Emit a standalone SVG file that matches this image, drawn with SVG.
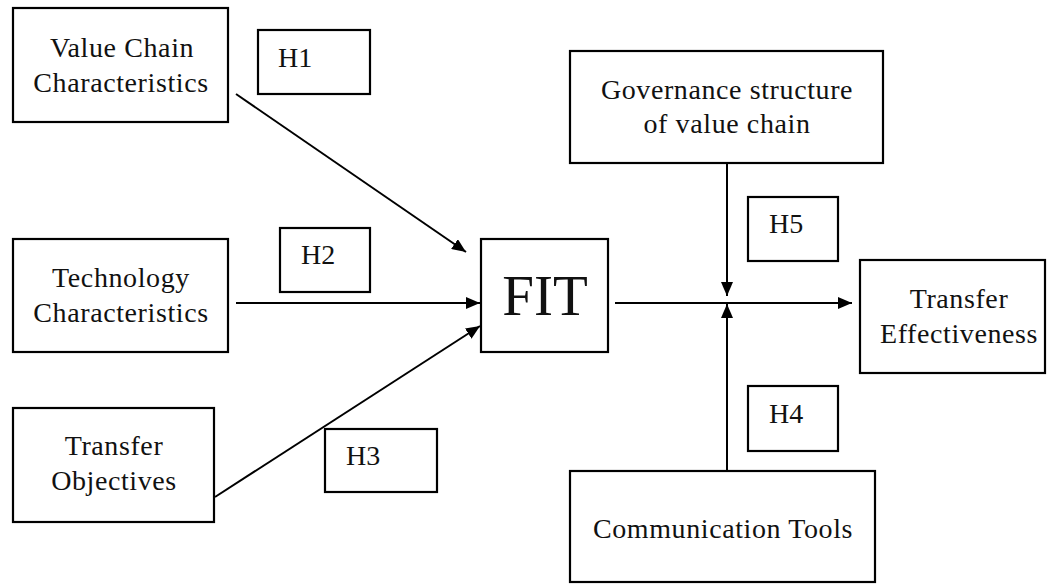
<svg xmlns="http://www.w3.org/2000/svg" width="1047" height="584" viewBox="0 0 1047 584">
<defs>
<marker id="ah" markerUnits="userSpaceOnUse" markerWidth="14" markerHeight="12" refX="14" refY="6" orient="auto">
<path d="M0,0 L14,6 L0,12 z" fill="#000"/>
</marker>
<style>
.box{fill:#fff;stroke:#000;stroke-width:2.2}
.t{font-family:"Liberation Serif","Times New Roman",serif;font-size:28px;letter-spacing:0.6px;fill:#111;text-anchor:middle}
.h{font-family:"Liberation Serif","Times New Roman",serif;font-size:28px;fill:#111}
.c{stroke:#000;stroke-width:2;fill:none;marker-end:url(#ah)}
</style>
</defs>
<rect width="1047" height="584" fill="#fff"/>
<g id="connectors">
<line class="c" x1="236" y1="94" x2="466" y2="252"/>
<line class="c" x1="236" y1="303" x2="480" y2="303"/>
<line class="c" x1="215" y1="497" x2="480" y2="326"/>
<line class="c" x1="615" y1="303" x2="852" y2="303"/>
<line class="c" x1="727" y1="163" x2="727" y2="296"/>
<line class="c" x1="727" y1="471" x2="727" y2="304"/>
</g>
<g id="value-chain">
<rect class="box" x="13" y="8" width="215" height="114"/>
<text class="t" x="122" y="57">Value Chain</text>
<text class="t" x="121" y="92">Characteristics</text>
</g>
<g id="h1">
<rect class="box" x="258" y="30" width="112" height="64"/>
<text class="h" x="278" y="67">H1</text>
</g>
<g id="technology">
<rect class="box" x="13" y="239" width="215" height="113"/>
<text class="t" x="121" y="287">Technology</text>
<text class="t" x="121" y="322">Characteristics</text>
</g>
<g id="h2">
<rect class="box" x="280" y="228" width="90" height="64"/>
<text class="h" x="301" y="264">H2</text>
</g>
<g id="transfer-objectives">
<rect class="box" x="13" y="408" width="201" height="114"/>
<text class="t" x="114" y="455">Transfer</text>
<text class="t" x="114" y="490">Objectives</text>
</g>
<g id="h3">
<rect class="box" x="325" y="429" width="112" height="63"/>
<text class="h" x="346" y="465">H3</text>
</g>
<g id="fit">
<rect class="box" x="481" y="239" width="127" height="113"/>
<text x="545" y="315" font-family="'Liberation Serif','Times New Roman',serif" font-size="57" text-anchor="middle" fill="#111">FIT</text>
</g>
<g id="governance">
<rect class="box" x="570" y="51" width="313" height="112"/>
<text class="t" x="727" y="99">Governance structure</text>
<text class="t" x="727" y="133">of value chain</text>
</g>
<g id="h5">
<rect class="box" x="748" y="197" width="90" height="64"/>
<text class="h" x="769" y="233">H5</text>
</g>
<g id="transfer-effectiveness">
<rect class="box" x="860" y="260" width="185" height="113"/>
<text class="t" x="959" y="308">Transfer</text>
<text class="t" x="959" y="343">Effectiveness</text>
</g>
<g id="h4">
<rect class="box" x="748" y="386" width="90" height="65"/>
<text class="h" x="769" y="423">H4</text>
</g>
<g id="communication">
<rect class="box" x="570" y="471" width="305" height="111"/>
<text class="t" x="723" y="538">Communication Tools</text>
</g>
</svg>
